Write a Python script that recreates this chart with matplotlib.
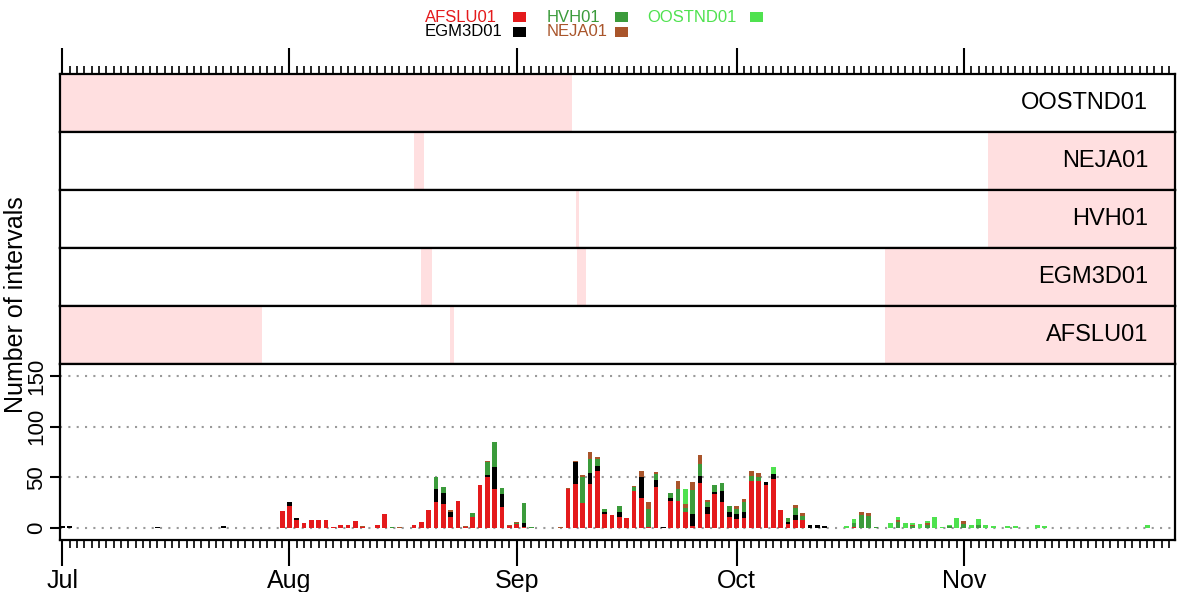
import numpy as np
import matplotlib.pyplot as plt
from matplotlib.ticker import MultipleLocator
from matplotlib.patches import Rectangle

plt.rcParams['font.family'] = ['Liberation Sans', 'DejaVu Sans']

# day offset from 1 July for every bar, and the stacked counts per station
days = [0, 1, 13, 22, 30, 31, 32, 33, 34, 35, 36, 37, 38, 39, 40, 41, 43, 44, 45, 46,
        48, 49, 50, 51, 52, 53, 54, 55, 56, 57, 58, 59, 60, 61, 62, 63, 64, 68, 69, 70,
        71, 72, 73, 74, 75, 76, 77, 78, 79, 80, 81, 82, 83, 84, 85, 86, 87, 88, 89, 90,
        91, 92, 93, 94, 95, 96, 97, 98, 99, 100, 101, 102, 103, 104, 107, 108, 109, 110, 111, 113,
        114, 115, 116, 117, 118, 119, 120, 121, 122, 123, 124, 125, 126, 127, 129, 130, 133, 134, 148]
afslu = [0, 0, 0, 0, 17, 22, 8, 5, 8, 8, 8, 1, 3, 3, 7, 1, 3, 14, 0, 0,
         3, 6, 18, 26, 24, 11, 27, 1, 11, 42, 50, 38, 21, 2, 4, 1, 0, 0, 38, 43,
         25, 43, 56, 14, 13, 11, 10, 36, 30, 1, 40, 0, 27, 27, 16, 2, 44, 14, 33, 26,
         11, 9, 10, 46, 46, 42, 48, 18, 4, 8, 8, 0, 0, 0, 0, 1, 0, 0, 0, 0,
         0, 0, 0, 0, 0, 0, 0, 0, 0, 0, 0, 0, 0, 0, 0, 0, 0, 0, 0]
egm3d = [2, 2, 1, 2, 0, 4, 2, 0, 0, 0, 0, 0, 0, 0, 0, 0, 0, 0, 0, 0,
         0, 0, 0, 12, 10, 5, 0, 0, 0, 0, 2, 22, 12, 0, 0, 4, 0, 0, 0, 22,
         0, 11, 5, 2, 0, 5, 0, 0, 20, 0, 7, 1, 3, 0, 0, 12, 7, 7, 2, 10,
         5, 5, 6, 0, 0, 3, 5, 0, 2, 5, 0, 3, 3, 2, 0, 0, 0, 0, 0, 0,
         0, 0, 0, 0, 0, 0, 0, 0, 0, 0, 0, 0, 0, 0, 0, 0, 0, 0, 0]
hvh = [0, 0, 0, 0, 0, 0, 0, 0, 0, 0, 0, 0, 0, 0, 0, 0, 0, 0, 1, 0,
       0, 0, 0, 12, 6, 0, 0, 0, 4, 0, 13, 25, 6, 0, 1, 20, 1, 0, 0, 0,
       25, 14, 7, 3, 0, 6, 0, 4, 0, 18, 6, 0, 4, 11, 4, 23, 12, 5, 7, 8,
       6, 5, 10, 5, 4, 0, 0, 0, 4, 7, 4, 0, 0, 0, 0, 4, 13, 12, 1, 0,
       6, 0, 2, 0, 3, 0, 0, 2, 0, 4, 0, 3, 0, 0, 0, 0, 0, 0, 0]
neja = [0, 0, 0, 0, 0, 0, 0, 0, 0, 0, 0, 0, 0, 0, 0, 1, 0, 0, 0, 1,
        0, 0, 0, 0, 0, 2, 0, 1, 0, 0, 1, 0, 0, 1, 1, 0, 0, 1, 1, 1,
        2, 7, 2, 0, 0, 0, 0, 1, 6, 7, 2, 0, 0, 8, 4, 8, 9, 2, 0, 0,
        0, 3, 3, 5, 4, 0, 0, 0, 0, 3, 3, 0, 0, 0, 0, 0, 3, 3, 0, 0,
        2, 0, 1, 0, 2, 0, 0, 0, 0, 3, 0, 0, 0, 0, 0, 0, 0, 0, 0]
oostnd = [0, 0, 0, 0, 0, 0, 0, 0, 0, 0, 0, 0, 0, 0, 0, 0, 0, 0, 0, 0,
          0, 0, 0, 0, 0, 0, 0, 0, 0, 0, 0, 0, 0, 0, 0, 0, 0, 0, 0, 0,
          0, 0, 0, 0, 0, 0, 0, 0, 0, 0, 0, 0, 0, 0, 14, 0, 0, 0, 0, 0,
          0, 0, 0, 0, 0, 0, 7, 0, 0, 0, 0, 0, 0, 0, 2, 4, 0, 0, 0, 5,
          3, 5, 2, 4, 2, 11, 1, 1, 10, 0, 3, 6, 3, 2, 2, 2, 3, 2, 3]

stations = ['AFSLU01', 'EGM3D01', 'HVH01', 'NEJA01', 'OOSTND01']
colors = ['#e41a1c', '#000000', '#3b9b3b', '#a9552b', '#4fe24f']

# periods without data (day offsets), one list per station
gap_oostnd = [(-1, 69.6)]
gap_neja = [(48.0, 49.4), (126.3, 160)]
gap_hvh = [(70.1, 70.5), (126.3, 160)]
gap_egm3d = [(49.0, 50.5), (70.2, 71.5), (112.3, 160)]
gap_afslu = [(-1, 27.3), (52.9, 53.4), (112.3, 160)]

month_pos = [0, 31, 62, 92, 123]
month_lab = ['Jul', 'Aug', 'Sep', 'Oct', 'Nov']

W, H = 1178, 592
xmin, xmax = -0.3, 151.8
pink = '#ffdfe0'

fig = plt.figure(figsize=(W / 100, H / 100), dpi=100)


def ax_at(top, bottom):
    return fig.add_axes([60 / W, 1 - bottom / H, (1175 - 60) / W, (bottom - top) / H])


strips = [('OOSTND01', gap_oostnd), ('NEJA01', gap_neja), ('HVH01', gap_hvh),
          ('EGM3D01', gap_egm3d), ('AFSLU01', gap_afslu)]
for i, (name, gaps) in enumerate(strips):
    ax = ax_at(74 + 58 * i, 132 + 58 * i)
    for a, b in gaps:
        ax.axvspan(a, b, color=pink, lw=0)
    ax.set_xlim(xmin, xmax)
    ax.set_ylim(0, 1)
    ax.set_yticks([])
    ax.text(0.976, 0.5, name, transform=ax.transAxes, ha='right', va='center', fontsize=17)
    for s in ax.spines.values():
        s.set_linewidth(1.6)
    ax.set_xticks(month_pos)
    ax.xaxis.set_minor_locator(MultipleLocator(1))
    if i == 0:
        ax.xaxis.set_ticks_position('top')
        ax.tick_params(axis='x', which='major', length=19, width=1.5, direction='out', labeltop=False)
        ax.tick_params(axis='x', which='minor', length=6, width=1.2, direction='out')
    else:
        ax.tick_params(axis='x', which='both', bottom=False, top=False, labelbottom=False)

# stacked daily bars
ax = ax_at(364, 540)
bottom = np.zeros(len(days))
for vals, col in zip([afslu, egm3d, hvh, neja, oostnd], colors):
    ax.bar(days, vals, width=0.65, bottom=bottom, color=col, lw=0, zorder=3)
    bottom += np.array(vals)
for yv in [0, 50, 100, 150]:
    ax.axhline(yv, color='#9a9a9a', lw=1.5, ls=(0, (1, 3)), zorder=1)
ax.set_xlim(xmin, xmax)
ax.set_ylim(-12, 162)
ax.set_xticks(month_pos)
ax.set_xticklabels(month_lab, fontsize=18)
ax.xaxis.set_minor_locator(MultipleLocator(1))
ax.tick_params(axis='x', which='major', length=19, width=1.5, pad=2)
ax.tick_params(axis='x', which='minor', length=6, width=1.2)
ax.set_yticks([0, 50, 100, 150])
ax.set_yticklabels(['0', '50', '100', '150'], rotation=90, va='center', fontsize=16)
ax.tick_params(axis='y', length=7, width=1.5, pad=2)
for s in ax.spines.values():
    s.set_linewidth(1.6)

fig.text(16 / W, 1 - 305 / H, 'Number of intervals', rotation=90, ha='center', va='center', fontsize=18)

# legend on top: text left edge, square left edge, row centre (pixels)
leg_items = [('AFSLU01', 0, 425, 513, 17), ('HVH01', 2, 547, 615, 17), ('OOSTND01', 4, 647, 750, 17),
             ('EGM3D01', 1, 425, 513, 32), ('NEJA01', 3, 547, 615, 32)]
for name, k, xt, xs, yc in leg_items:
    fig.text(xt / W, 1 - yc / H, name, color=colors[k], ha='left', va='center', fontsize=12)
    fig.add_artist(Rectangle((xs / W, 1 - (yc + 5) / H), 13 / W, 10 / H,
                             transform=fig.transFigure, color=colors[k], lw=0))

fig.savefig('out.png', dpi=100)
